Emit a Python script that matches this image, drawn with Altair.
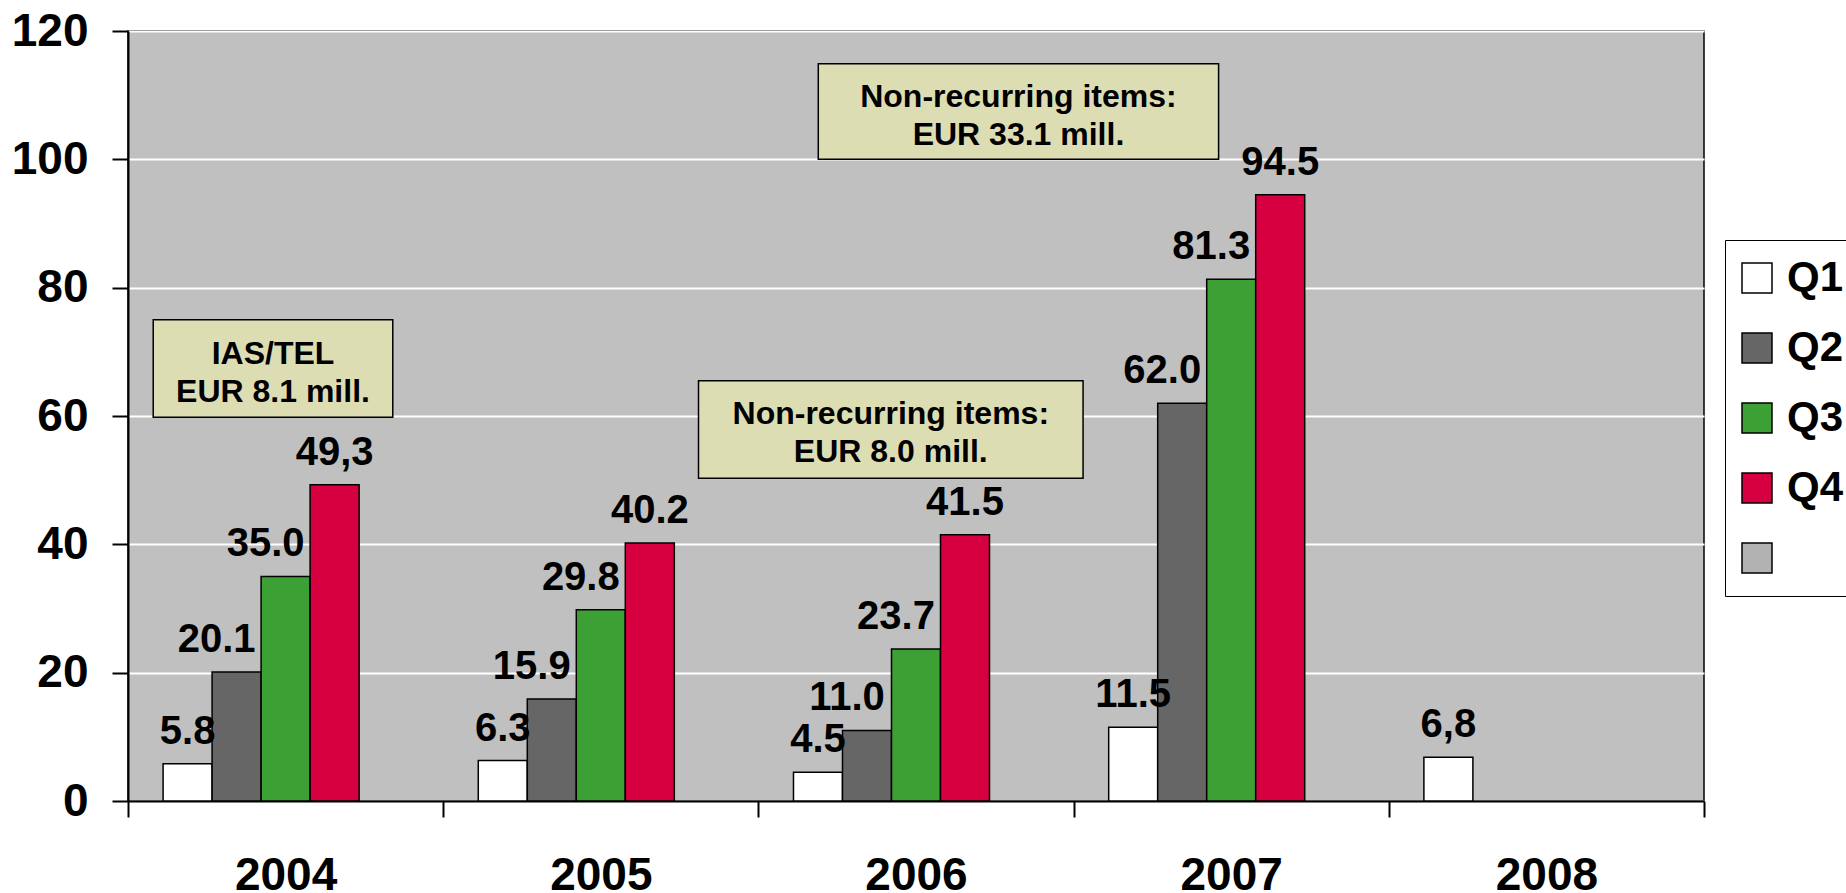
import altair as alt
import pandas as pd

years = ["2004", "2005", "2006", "2007", "2008"]
series = ["Q1", "Q2", "Q3", "Q4", " "]
colors = ["#FFFFFF", "#666666", "#3DA035", "#D60041", "#B2B2B2"]

q1 = [5.8, 6.3, 4.5, 11.5, 6.8]
q2 = [20.1, 15.9, 11.0, 62.0, None]
q3 = [35.0, 29.8, 23.7, 81.3, None]
q4 = [49.3, 40.2, 41.5, 94.5, None]
q1_lbl = ["5.8", "6.3", "4.5", "11.5", "6,8"]
q2_lbl = ["20.1", "15.9", "11.0", "62.0", ""]
q3_lbl = ["35.0", "29.8", "23.7", "81.3", ""]
q4_lbl = ["49,3", "40.2", "41.5", "94.5", ""]

note_text = ["IAS/TEL\nEUR 8.1 mill.",
             "Non-recurring items:\nEUR 8.0 mill.",
             "Non-recurring items:\nEUR 33.1 mill."]
note_x0 = [0.08, 1.81, 2.19]
note_x1 = [0.84, 3.03, 3.46]
note_y0 = [59.8, 50.3, 100.0]
note_y1 = [75.0, 65.5, 114.9]

rows = []
for s, vals, lbls in zip(series[:4], [q1, q2, q3, q4], [q1_lbl, q2_lbl, q3_lbl, q4_lbl]):
    for y, v, l in zip(years, vals, lbls):
        if v is not None:
            rows.append({"year": y, "series": s, "value": v, "label": l})
df = pd.DataFrame(rows)

notes = pd.DataFrame({
    "text": note_text,
    "x0": note_x0, "x1": note_x1,
    "y0": note_y0, "y1": note_y1,
    "xm": [(a + b) / 2 for a, b in zip(note_x0, note_x1)],
    "ym": [(a + b) / 2 for a, b in zip(note_y0, note_y1)],
})

FONT = "Liberation Sans"

yaxis = alt.Axis(values=[0, 20, 40, 60, 80, 100, 120], title=None, grid=True,
                 gridColor="white", gridWidth=2, domainColor="black", domainWidth=2,
                 tickColor="black", tickWidth=2, tickSize=16, labelPadding=24,
                 labelFont=FONT, labelFontSize=46, labelFontWeight="bold", labelColor="black")
yscale = alt.Scale(domain=[0, 120], nice=False, zero=True)

xscale = alt.Scale(domain=years, paddingInner=0, paddingOuter=0)
xaxis = alt.Axis(title=None, labelAngle=0, tickBand="extent", grid=False,
                 domainColor="black", domainWidth=2, tickColor="black", tickWidth=2,
                 tickSize=16, labelPadding=36, labelFont=FONT, labelFontSize=46,
                 labelFontWeight="bold", labelColor="black")
xoff = alt.XOffset("series:N", scale=alt.Scale(domain=series, paddingInner=0, paddingOuter=0.716))

bars = alt.Chart(df).mark_bar(stroke="black", strokeWidth=1.5).encode(
    x=alt.X("year:N", scale=xscale, axis=xaxis),
    xOffset=xoff,
    y=alt.Y("value:Q", scale=yscale, axis=yaxis),
    color=alt.Color("series:N", scale=alt.Scale(domain=series, range=colors),
                    legend=alt.Legend(title=None, orient="none", legendX=1597, legendY=209,
                                      padding=17, fillColor="white", strokeColor="black",
                                      labelFont=FONT, labelFontSize=42, labelFontWeight="bold",
                                      labelColor="black", symbolType="square", symbolSize=900,
                                      symbolStrokeColor="black", symbolStrokeWidth=1.5,
                                      symbolOffset=-6,
                                      rowPadding=28, labelOffset=9, labelLimit=300)),
)


def label_layer(sel, dx):
    return alt.Chart(df).transform_filter(
        alt.FieldOneOfPredicate(field="series", oneOf=sel)
    ).mark_text(font=FONT, fontSize=40, fontWeight="bold", color="black",
                baseline="alphabetic", dy=-20, dx=dx).encode(
        x=alt.X("year:N", scale=xscale, axis=xaxis),
        xOffset=xoff,
        y=alt.Y("value:Q", scale=yscale, axis=yaxis),
        text="label:N",
    )


labels_a = label_layer(["Q1", "Q4"], 0)
labels_b = label_layer(["Q2", "Q3"], -20)

nscale = alt.Scale(domain=[0, 5], nice=False, zero=False)
boxes = alt.Chart(notes).mark_rect(fill="#DDDDB4", stroke="black", strokeWidth=1.5).encode(
    x=alt.X("x0:Q", scale=nscale, axis=None),
    x2="x1:Q",
    y=alt.Y("y0:Q", scale=yscale, axis=yaxis),
    y2="y1:Q",
)
texts = alt.Chart(notes).mark_text(font=FONT, fontSize=32, fontWeight="bold", color="black",
                                   lineBreak="\n", lineHeight=38, baseline="middle",
                                   align="center", dy=-15).encode(
    x=alt.X("xm:Q", scale=nscale, axis=None),
    y=alt.Y("ym:Q", scale=yscale, axis=yaxis),
    text="text:N",
)

chart = alt.layer(
    alt.layer(bars, labels_a, labels_b),
    alt.layer(boxes, texts),
).resolve_scale(x="independent").properties(
    width=1576, height=770,
    padding={"left": 128, "top": 31, "right": 142, "bottom": 92},
    autosize=alt.AutoSizeParams(type="none"),
    background="white",
).configure_view(fill="#C0C0C0", stroke="black", strokeWidth=1.5)

chart.save("out.html", embed_options={"renderer": "svg", "actions": False})
